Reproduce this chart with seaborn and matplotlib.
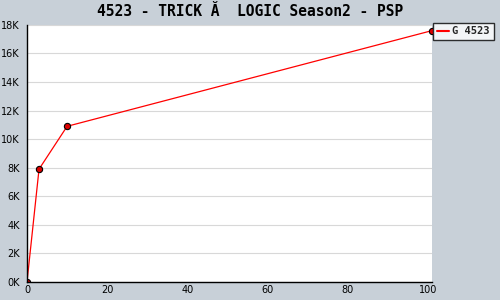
import matplotlib
matplotlib.use("Agg")
import matplotlib.pyplot as plt
import seaborn as sns
import pandas as pd
from matplotlib.ticker import MultipleLocator, FuncFormatter

weeks = [0, 3, 10, 101]
sales = [0, 7900, 10900, 17600]
series_name = "G 4523"
title = "4523 - TRICK Ă  LOGIC Season2 - PSP"

df = pd.DataFrame({"week": weeks, "sales": sales})

sns.set_style("white")
bg = "#c8d0d8"
fig = plt.figure(figsize=(5, 3), dpi=100, facecolor=bg)
ax = fig.add_axes([0.054, 0.06, 0.81, 0.857])
ax.set_facecolor("white")

sns.lineplot(data=df, x="week", y="sales", ax=ax, color="#ff0000", linewidth=0.9,
             marker="o", markersize=4.5, markerfacecolor="#dd0000",
             markeredgecolor="black", markeredgewidth=0.8, label=series_name)

ax.set_xlim(0, 101)
ax.set_ylim(0, 18000)
ax.xaxis.set_major_locator(MultipleLocator(20))
ax.yaxis.set_major_locator(MultipleLocator(2000))
ax.yaxis.set_minor_locator(MultipleLocator(1000))
ax.yaxis.set_major_formatter(FuncFormatter(lambda v, p: f"{int(v/1000)}K"))
ax.grid(axis="y", which="major", color="#d8d8d8", linewidth=0.8)
ax.set_xlabel("")
ax.set_ylabel("")
for s in ["top", "right"]:
    ax.spines[s].set_visible(False)
for s in ["left", "bottom"]:
    ax.spines[s].set_color("black")
    ax.spines[s].set_linewidth(1)
ax.tick_params(axis="both", which="major", labelsize=7, length=4, width=0.8,
               colors="black", pad=2)
ax.tick_params(axis="x", which="major", direction="in", length=4)
ax.tick_params(axis="y", which="major", direction="out", length=3)
ax.tick_params(axis="y", which="minor", length=2, direction="out")

fig.text(0.5, 0.963, title, ha="center", va="center", fontsize=10.5,
         fontweight="bold", family="DejaVu Sans Mono", color="black")

leg = ax.legend(loc="upper left", bbox_to_anchor=(1.003, 1.008), frameon=True,
                fancybox=False, fontsize=7.5, handlelength=1.2, handletextpad=0.3,
                borderpad=0.35, borderaxespad=0.0)
leg.get_frame().set_edgecolor("black")
leg.get_frame().set_linewidth(1)
for t in leg.get_texts():
    t.set_fontweight("bold")
    t.set_family("DejaVu Sans Mono")
for h in leg.legend_handles:
    h.set_marker("")
    h.set_linewidth(1.5)

fig.savefig("out.png", dpi=100, facecolor=bg)
